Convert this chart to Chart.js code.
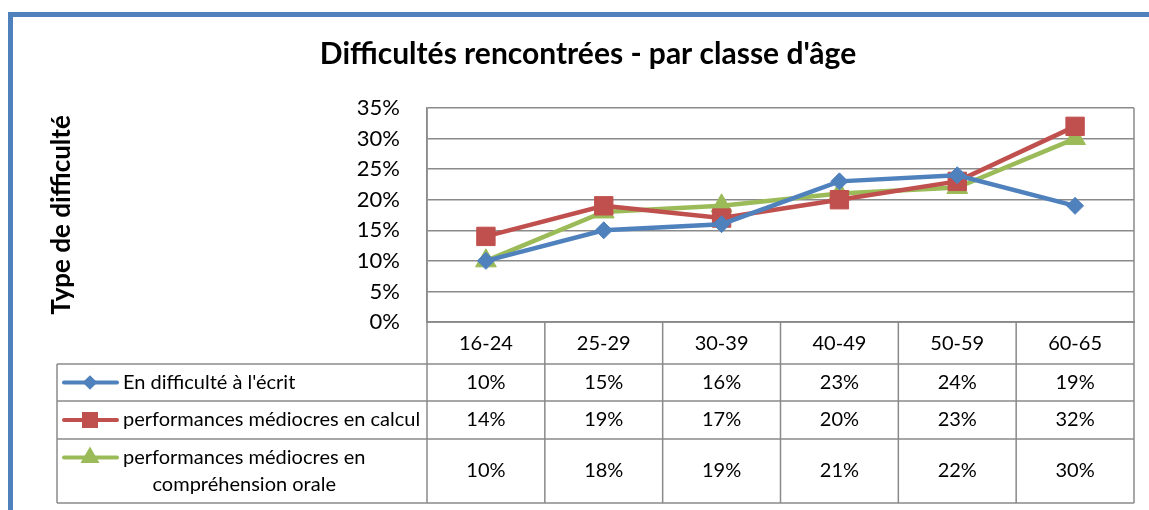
<!DOCTYPE html>
<html>
<head>
<meta charset="utf-8">
<script src="https://cdn.jsdelivr.net/npm/chart.js@4/dist/chart.umd.min.js"></script>
<style>
    html, body { margin: 0; padding: 0; background: #fff; }
    canvas { display: block; }
</style>
</head>
<body>
<canvas id="chart" width="1149" height="510"></canvas>
<script>
const ageGroups = ["16-24", "25-29", "30-39", "40-49", "50-59", "60-65"];
const ecrit = [10, 15, 16, 23, 24, 19];
const calcul = [14, 19, 17, 20, 23, 32];
const oral = [10, 18, 19, 21, 22, 30];
const seriesNames = [
    "En difficulté à l'écrit",
    "performances médiocres en calcul",
    "performances médiocres en compréhension orale",
];

const FONT = "Lato, 'Open Sans', sans-serif";
const GRID = "#8a8a8a";

function makeSeries(label, data, color, pointStyle, radius) {
    return {
        label,
        data,
        borderColor: color,
        backgroundColor: color,
        borderWidth: 4.5,
        pointStyle,
        pointRadius: radius,
        pointHoverRadius: radius,
        pointBorderWidth: 1,
        pointBackgroundColor: color,
        pointBorderColor: color,
        tension: 0,
        // small key marker used in the data table
        keyRadius: pointStyle === "rectRot" ? 4.5 : (pointStyle === "rect" ? 8.5 : 7),
    };
}

// white page + blue chart frame, cut off at right and bottom like the source
const framePlugin = {
    id: "frame",
    beforeDraw(chart) {
        const { ctx, width, height } = chart;
        ctx.save();
        ctx.fillStyle = "#fff";
        ctx.fillRect(0, 0, width, height);
        ctx.fillStyle = "#4F81BD";
        ctx.fillRect(8, 12, width - 8, 5);
        ctx.fillRect(8, 12, 5, height - 12);
        ctx.restore();
    },
};

function wrapText(ctx, text, maxWidth) {
    const words = text.split(" ");
    const lines = [];
    let line = "";
    for(let i = 0; i < words.length; i++) {
        const test = line ? line + " " + words[i] : words[i];
        if(line && ctx.measureText(test).width > maxWidth) {
            lines.push(line);
            line = words[i];
        } else {
            line = test;
        }
    }
    if(line) lines.push(line);
    return lines;
}

// Excel-like data table under the plot, with legend keys
const dataTablePlugin = {
    id: "dataTable",
    afterDraw(chart) {
        const { ctx } = chart;
        const xs = chart.scales.x;
        const area = chart.chartArea;
        const left = xs.left;
        const right = xs.right;
        const keyLeft = 57;
        const rows = [area.bottom, 364, 401, 439, 503];
        const n = ageGroups.length;
        const colW = (right - left) / n;

        ctx.save();
        ctx.strokeStyle = GRID;
        ctx.lineWidth = 1.5;

        // right edge of plot + table
        ctx.beginPath();
        ctx.moveTo(right, area.top);
        ctx.lineTo(right, rows[4]);
        // left edge of value columns
        ctx.moveTo(left, area.top);
        ctx.lineTo(left, rows[4]);
        for(let i = 1; i < n; i++) {
            const x = left + colW * i;
            ctx.moveTo(x, rows[0]);
            ctx.lineTo(x, rows[4]);
        }
        ctx.moveTo(keyLeft, rows[1]);
        ctx.lineTo(keyLeft, rows[4]);
        ctx.moveTo(left, rows[0]);
        ctx.lineTo(right, rows[0]);
        for(let r = 1; r < rows.length; r++) {
            ctx.moveTo(keyLeft, rows[r]);
            ctx.lineTo(right, rows[r]);
        }
        ctx.stroke();

        ctx.fillStyle = "#000";
        ctx.font = "20px " + FONT;
        ctx.textAlign = "center";
        ctx.textBaseline = "middle";

        // category row
        for(let i = 0; i < n; i++) {
            ctx.fillText(ageGroups[i], xs.getPixelForValue(i), (rows[0] + rows[1]) / 2 + 1);
        }

        chart.data.datasets.forEach((ds, d) => {
            const top = rows[d + 1];
            const bottom = rows[d + 2];
            const midY = (top + bottom) / 2;

            ctx.fillStyle = "#000";
            ctx.font = "20px " + FONT;
            ctx.textAlign = "center";
            for(let i = 0; i < n; i++) {
                ctx.fillText(ds.data[i] + "%", xs.getPixelForValue(i), midY);
            }

            // label, wrapped when too long
            ctx.font = "20px " + FONT;
            const lines = wrapText(ctx, ds.label, left - 123 - 3);
            const lineH = 27;
            const firstY = midY - (lines.length - 1) * lineH / 2;
            const firstW = ctx.measureText(lines[0]).width;
            const centerX = 123 + firstW / 2;
            for(let j = 0; j < lines.length; j++) {
                ctx.textAlign = j === 0 ? "left" : "center";
                ctx.fillText(lines[j], j === 0 ? 123 : centerX, firstY + j * lineH);
            }

            // legend key: line + small marker
            ctx.strokeStyle = ds.borderColor;
            ctx.lineWidth = 4;
            ctx.lineCap = "round";
            ctx.beginPath();
            ctx.moveTo(64, firstY);
            ctx.lineTo(117, firstY);
            ctx.stroke();
            ctx.fillStyle = ds.borderColor;
            Chart.helpers.drawPoint(ctx, {
                pointStyle: ds.pointStyle,
                radius: ds.keyRadius,
                rotation: 0,
                borderWidth: 1,
            }, 90, firstY);
            ctx.strokeStyle = GRID;
            ctx.lineWidth = 1.5;
            ctx.lineCap = "butt";
        });

        ctx.restore();
    },
};

new Chart(document.getElementById("chart"), {
    type: "line",
    data: {
        labels: ageGroups,
        datasets: [
            makeSeries(seriesNames[0], ecrit, "#4F81BD", "rectRot", 8.5),
            makeSeries(seriesNames[1], calcul, "#C0504D", "rect", 13),
            makeSeries(seriesNames[2], oral, "#9BBB59", "triangle", 12),
        ],
    },
    options: {
        responsive: false,
        animation: false,
        devicePixelRatio: 1,
        layout: {
            padding: { left: 42, right: 15, top: 0, bottom: 188 },
        },
        plugins: {
            legend: { display: false },
            tooltip: { enabled: false },
            title: {
                display: true,
                text: "Difficultés rencontrées - par classe d'âge",
                color: "#000",
                font: { family: FONT, size: 30, weight: "bold", lineHeight: 1.2 },
                padding: { top: 36, bottom: 36 },
            },
        },
        scales: {
            x: {
                offset: true,
                grid: { display: false, drawTicks: false },
                border: { display: true, color: GRID, width: 1.5 },
                ticks: { display: false },
                afterFit(scale) {
                    scale.height = 0;
                },
            },
            y: {
                min: 0,
                max: 35,
                ticks: {
                    stepSize: 5,
                    padding: 27,
                    color: "#000",
                    font: { family: FONT, size: 22 },
                    callback: (v) => v + "%",
                },
                grid: { color: GRID, lineWidth: 1.5, drawTicks: false },
                border: { display: true, color: GRID, width: 1.5 },
                title: {
                    display: true,
                    text: "Type de difficulté",
                    color: "#000",
                    font: { family: FONT, size: 26, weight: "bold", lineHeight: 1.2 },
                    padding: { top: 4, bottom: 0 },
                },
                afterFit(scale) {
                    scale.width = 385;
                },
            },
        },
    },
    plugins: [framePlugin, dataTablePlugin],
});
</script>
</body>
</html>
